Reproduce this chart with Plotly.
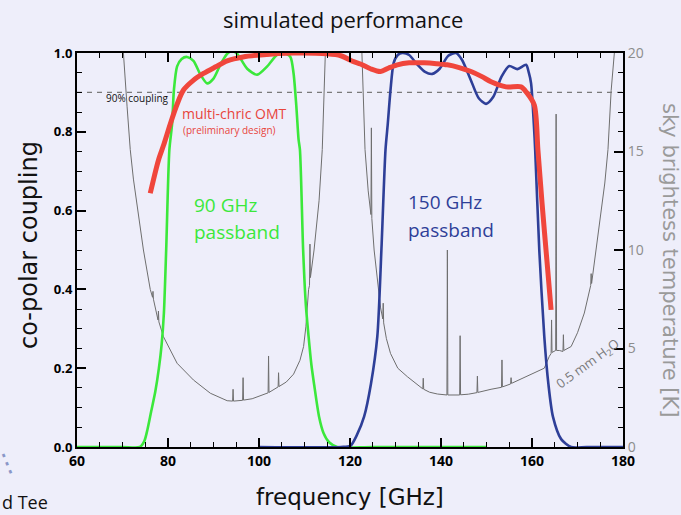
import plotly.graph_objects as go

# ---------------- data ----------------
freq_90 = [60, 70, 73.8, 74.8, 75.5, 76.3, 77.2, 78.0, 78.6, 79.1, 79.6, 80.3, 80.9, 81.3, 82.0, 83.0,
           84.2, 85.6, 87.1, 88.6, 90.0, 91.5, 93.0, 94.1, 95.2, 97.4, 99.6, 101.8, 104.0,
           105.5, 106.9, 107.6, 108.2, 108.7, 109.0, 109.7, 110.3, 110.9, 111.5, 112.1, 113.2,
           114.2, 115.4, 117.2, 125, 150]
coupling_90 = [0, 0, 0.0, 0.015, 0.045, 0.09, 0.14, 0.2, 0.26, 0.34, 0.5, 0.754, 0.82, 0.906, 0.966, 0.985,
               0.99, 0.98, 0.946, 0.923, 0.935, 0.97, 0.998, 1.005, 0.998, 0.96, 0.945, 0.966, 0.996,
               1.0, 0.99, 0.948, 0.866, 0.78, 0.754, 0.5, 0.36, 0.28, 0.21, 0.16, 0.077,
               0.035, 0.012, 0.0, 0, 0]

freq_150 = [100, 118, 120.1, 121.5, 123.1, 124.6, 126.0, 126.9, 127.8, 128.3, 128.9, 129.6, 130.5,
            131.5, 133.0, 134.7, 136.5, 138.1, 139.7, 141.6, 143.3, 144.6, 146.5, 148.3, 149.9,
            151.5, 153.3, 155.0, 156.8, 158.7, 159.3, 159.8, 160.4, 160.7, 161.6, 162.7, 163.6,
            164.6, 166.4, 168.6, 172, 180]
coupling_150 = [0, 0, 0.003, 0.03, 0.077, 0.16, 0.28, 0.5, 0.754, 0.82, 0.906, 0.975, 0.995,
                1.0, 0.995, 0.972, 0.952, 0.947, 0.96, 0.993, 1.0, 0.983, 0.933, 0.885, 0.871,
                0.889, 0.94, 0.967, 0.959, 0.97, 0.95, 0.923, 0.82, 0.754, 0.5, 0.28, 0.16,
                0.077, 0.02, 0.0, 0, 0]

freq_omt = [76.1, 77.9, 79.0, 80.5, 82.0, 83.4, 85.5, 87.8, 90.5, 93.0, 96.5, 100.3, 107.6, 115.0,
            118.0, 120.8, 122.3, 124.5, 126.7, 128.5, 130.4, 133.0, 136.3, 139.0, 141.4, 144.0,
            146.6, 149.0, 151.0, 154.3, 157.6, 158.8, 160.5, 161.3, 162.2, 163.3, 164.2]
coupling_omt = [0.644, 0.728, 0.765, 0.82, 0.87, 0.906, 0.93, 0.948, 0.965, 0.98, 0.99, 0.995, 1.0, 0.998,
                0.993, 0.978, 0.972, 0.96, 0.953, 0.962, 0.97, 0.975, 0.975, 0.973, 0.97, 0.963,
                0.953, 0.94, 0.927, 0.914, 0.914, 0.9, 0.868, 0.754, 0.62, 0.47, 0.348]

freq_sky = [69.6, 70.2, 71.0, 71.7, 72.4, 73.1, 74.6, 76.1, 76.6, 76.7, 76.8, 77.8, 77.9, 78.0,
            79.0, 82.0, 85.6, 89.3, 93.0, 94.2, 94.3, 94.4, 96.4, 96.5, 96.6, 98.5, 100.3,
            102.0, 102.1, 102.2, 104.2, 104.3, 104.4, 106.0, 107.6, 109.0, 109.8, 110.3, 110.9,
            111.1, 111.2, 111.3, 112.1, 113.2, 113.9, 114.6, 115.0,
            122.2, 122.6, 123.0, 123.3, 124.0, 124.6, 124.7, 124.8, 125.3, 126.0, 126.7, 127.2,
            127.3, 127.4, 128.0, 128.9, 130.5, 132.6, 134.5, 136.0, 136.1, 136.2, 137.5, 139.2,
            141.3, 141.4, 141.5, 144.1, 144.2, 144.3, 146.0, 147.9, 148.0, 148.1, 151.0, 153.3,
            153.4, 153.5, 155.3, 155.4, 155.5, 157.5, 159.8, 161.5, 162.7, 163.8, 164.2, 164.3,
            164.4, 165.2, 165.3, 165.4, 166.0, 166.8, 166.9, 167.0, 168.6, 170.0, 171.5, 172.9,
            173.0, 173.1, 174.5, 176.0, 176.7, 177.4, 178.1, 178.5]
temp_sky = [23, 20, 17.3, 15.1, 13.6, 12.5, 10.0, 8.0, 7.6, 7.9, 7.5, 6.45, 6.9, 6.35,
            5.6, 4.25, 3.4, 2.73, 2.35, 2.33, 2.93, 2.33, 2.37, 3.52, 2.38, 2.45, 2.59,
            2.75, 4.62, 2.77, 3.05, 3.77, 3.07, 3.3, 3.7, 4.4, 5.1, 6.1, 8.0,
            8.2, 10.3, 8.6, 10.0, 12.5, 15.1, 20, 23,
            23, 20, 16.8, 15.1, 13.0, 11.8, 16.2, 11.6, 10.0, 8.4, 7.1, 6.5,
            7.3, 6.3, 5.5, 4.75, 4.0, 3.57, 3.2, 2.95, 3.49, 2.93, 2.78, 2.69,
            2.64, 10.0, 2.64, 2.64, 5.65, 2.65, 2.68, 2.76, 3.6, 2.77, 2.93, 3.03,
            4.42, 3.05, 3.2, 3.52, 3.23, 3.45, 3.7, 3.85, 4.0, 4.6, 4.75, 6.45,
            4.8, 4.9, 16.9, 4.9, 4.9, 4.85, 5.7, 4.9, 5.1, 5.8, 6.8, 8.2,
            8.8, 8.3, 10.8, 13.4, 15.1, 18.1, 20, 23]

coupling_target = 0.9

x_range = [60, 180]
x_tick_step = 20
y_range = [0, 1]
y_tick_step = 0.2
t_range = [0, 20]
t_tick_step = 5

# ---------------- styling ----------------
BG = "#eeeefa"
GREEN = "#3be83b"
BLUE = "#2e3f98"
RED = "#f0463c"
GRAY = "#6e6e6e"
FONT = "Open Sans"
WIDE = "DejaVu Sans"

L, R, T, B = 77, 623, 53, 447  # plot-area pixel box


def px(xp):
    return (xp - L) / (R - L)


def py(yp):
    return (B - yp) / (B - T)


fig = go.Figure()
fig.add_trace(go.Scatter(x=freq_sky, y=temp_sky, yaxis="y", mode="lines",
                         line=dict(color=GRAY, width=1), hoverinfo="skip"))
fig.add_trace(go.Scatter(x=x_range, y=[coupling_target, coupling_target], yaxis="y2", mode="lines",
                         line=dict(color="#7a7a7a", width=1.3, dash="5px,5px"), hoverinfo="skip"))
fig.add_trace(go.Scatter(x=freq_90, y=coupling_90, yaxis="y2", mode="lines",
                         line=dict(color=GREEN, width=2.6, shape="spline", smoothing=0.7)))
fig.add_trace(go.Scatter(x=freq_150, y=coupling_150, yaxis="y2", mode="lines",
                         line=dict(color=BLUE, width=2.6, shape="spline", smoothing=0.7)))
fig.add_trace(go.Scatter(x=freq_omt, y=coupling_omt, yaxis="y2", mode="lines",
                         line=dict(color=RED, width=5, shape="spline", smoothing=0.8)))

fig.update_layout(
    width=681, height=515,
    margin=dict(l=L, r=681 - R, t=T, b=515 - B),
    paper_bgcolor=BG, plot_bgcolor=BG, showlegend=False,
    xaxis=dict(range=x_range, dtick=x_tick_step, mirror="ticks",
               showgrid=False, zeroline=False, showline=True, linecolor="black", linewidth=2,
               ticks="inside", tickcolor="black", tickwidth=1.6, ticklen=9,
               minor=dict(dtick=x_tick_step / 4, ticks="inside", ticklen=5, tickcolor="black", tickwidth=1.4),
               tickfont=dict(size=14, color="black", weight="bold")),
    yaxis=dict(range=t_range, side="right", dtick=t_tick_step,
               showgrid=False, zeroline=False, showline=True, linecolor="black", linewidth=2,
               ticks="inside", tickcolor="black", tickwidth=1.6, ticklen=9,
               minor=dict(dtick=1, ticks="inside", ticklen=5, tickcolor="black", tickwidth=1.4),
               tickfont=dict(family=FONT, size=14, color="#8c8c8c")),
    yaxis2=dict(range=y_range, overlaying="y", side="left", dtick=y_tick_step, tickformat=".1f",
                showgrid=False, zeroline=False, showline=True, linecolor="black", linewidth=2,
                ticks="inside", tickcolor="black", tickwidth=1.6, ticklen=9,
                minor=dict(dtick=y_tick_step / 4, ticks="inside", ticklen=5, tickcolor="black", tickwidth=1.4),
                tickfont=dict(size=13, color="black", weight="bold")),
)

ann = [
    dict(text="simulated performance", x=px(343), y=py(19), font=dict(size=22, color="#111")),
    dict(text="frequency [GHz]", x=px(350), y=py(497), font=dict(family=WIDE, size=23, color="#111")),
    dict(text="co-polar coupling", x=px(29), y=py(245), textangle=-90,
         font=dict(family=WIDE, size=24, color="#111")),
    dict(text="sky brightess temperature [K]", x=px(670), y=py(260), textangle=90,
         font=dict(family=WIDE, size=21, color="#9a9a9a")),
    dict(text="90% coupling", x=px(104), y=py(98), xanchor="left", font=dict(size=10, color="#111")),
    dict(text="multi-chric OMT", x=px(180), y=py(113), xanchor="left", font=dict(size=14, color="#e8453c")),
    dict(text="(preliminary design)", x=px(181), y=py(130), xanchor="left", font=dict(size=10, color="#e8453c")),
    dict(text="90 GHz", x=px(192), y=py(205), xanchor="left", font=dict(size=19, color=GREEN)),
    dict(text="passband", x=px(192), y=py(232), xanchor="left", font=dict(size=19, color=GREEN)),
    dict(text="150 GHz", x=px(406), y=py(202), xanchor="left", font=dict(size=19, color=BLUE)),
    dict(text="passband", x=px(406), y=py(230), xanchor="left", font=dict(size=19, color=BLUE)),
    dict(text="0.5 mm H<sub>2</sub>O", x=px(588), y=py(364), textangle=-36,
         font=dict(size=13, color="#7a7a7a")),
    dict(text="d Tee", x=px(0), y=py(502), xanchor="left", font=dict(size=18, color="#111")),
    dict(text="⋮", x=px(6), y=py(462), textangle=-22, font=dict(size=26, color="#8a97c8")),
]
for a in ann:
    a.setdefault("xanchor", "center")
    a["font"].setdefault("family", FONT)
    fig.add_annotation(xref="paper", yref="paper", yanchor="middle", showarrow=False, **a)

fig.write_html("out.html")
